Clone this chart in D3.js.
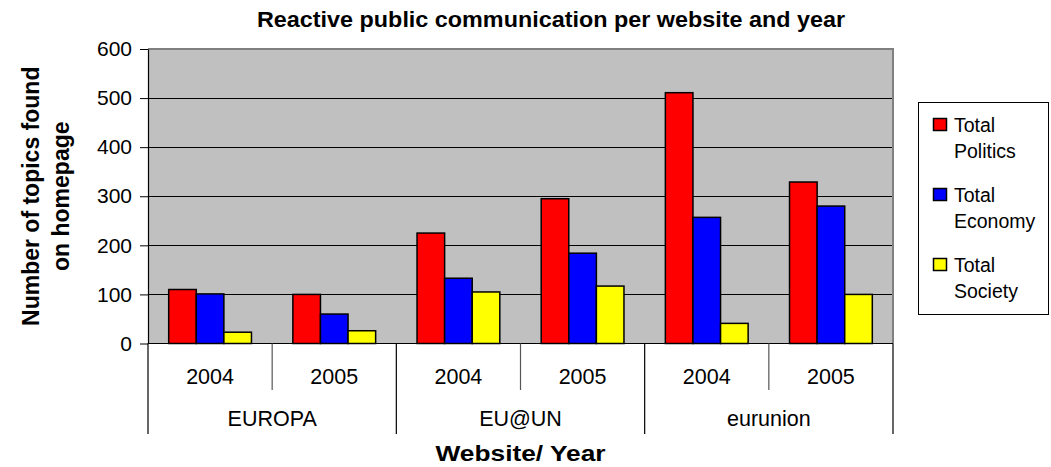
<!DOCTYPE html>
<html><head><meta charset="utf-8">
<script src="https://cdn.jsdelivr.net/npm/d3@7"></script>
<style>body{margin:0;background:#fff} text{font-family:Arial,"Liberation Sans",sans-serif;fill:#000}</style>
</head><body>
<svg id="c" width="1051" height="467"></svg>
<script>
const websites = ["EUROPA", "EU@UN", "eurunion"];
const years = ["2004", "2005"];
const seriesNames = ["Total Politics", "Total Economy", "Total Society"];
const politics = [110, 100, 225, 295, 511, 329];
const economy  = [101, 60, 133, 184, 257, 280];
const society  = [23, 26, 105, 117, 41, 100];
const yTicks = [0, 100, 200, 300, 400, 500, 600];
const colors = ["#FF0000", "#0000FF", "#FFFF00"];

const cats = websites.flatMap(w => years.map(y => ({site: w, year: y, key: w + "|" + y})));
const seriesVals = [politics, economy, society];
const data = cats.map((c, i) => ({...c, vals: seriesNames.map((s, j) => ({name: s, v: seriesVals[j][i], color: colors[j]}))}));

const svg = d3.select("#c");
const L = 148, R = 893, T = 49, B = 343.5;
const x0 = d3.scaleBand().domain(cats.map(c => c.key)).range([L, R]).padding(0);
const x1 = d3.scaleBand().domain(seriesNames).range([0, x0.bandwidth()]).paddingInner(0).paddingOuter(0.75);
const y = d3.scaleLinear().domain([0, 600]).range([B, T]);

// plot background
svg.append("rect").attr("x", L).attr("y", T).attr("width", R - L).attr("height", B - T).attr("fill", "#C0C0C0");
// gridlines
svg.append("g").selectAll("line").data(yTicks.filter(t => t > 0 && t < 600)).join("line")
  .attr("x1", L).attr("x2", R).attr("y1", d => Math.round(y(d)) + 0.5).attr("y2", d => Math.round(y(d)) + 0.5)
  .attr("stroke", "#000").attr("stroke-width", 1);
// top/right border
svg.append("path").attr("d", `M${L},${T}H${R}V${B}`).attr("fill", "none").attr("stroke", "#808080").attr("stroke-width", 2);

// bars
const g = svg.append("g").selectAll("g").data(data).join("g").attr("transform", d => `translate(${x0(d.key)},0)`);
g.selectAll("rect").data(d => d.vals).join("rect")
  .attr("x", d => x1(d.name)).attr("width", x1.bandwidth())
  .attr("y", d => y(d.v)).attr("height", d => B - y(d.v))
  .attr("fill", d => d.color).attr("stroke", "#000").attr("stroke-width", 1.5);

// y axis
const ya = svg.append("g").attr("transform", `translate(${L},0)`)
  .call(d3.axisLeft(y).tickValues(yTicks).tickSize(8).tickPadding(8).tickSizeOuter(0));
ya.select(".domain").attr("stroke", "#000").attr("stroke-width", 1.2);
ya.selectAll(".tick line").attr("stroke", "#000");
ya.selectAll("text").attr("font-size", 21).attr("font-family", "Arial, 'Liberation Sans', sans-serif").attr("fill", "#000");

// category axis lines
svg.append("line").attr("x1", L).attr("x2", R).attr("y1", B).attr("y2", B).attr("stroke", "#000").attr("stroke-width", 1.2);
const catAxis = svg.append("g");
cats.forEach((c, i) => {
  const xs = x0(c.key);
  const isGroupStart = years.indexOf(c.year) === 0;
  catAxis.append("line").attr("x1", xs).attr("x2", xs).attr("y1", B).attr("y2", isGroupStart ? 434 : 390)
    .attr("stroke", isGroupStart ? "#000" : "#555").attr("stroke-width", 1.2);
});
catAxis.append("line").attr("x1", R).attr("x2", R).attr("y1", B).attr("y2", 434).attr("stroke", "#000").attr("stroke-width", 1.2);
// year labels
svg.append("g").selectAll("text").data(cats).join("text")
  .attr("x", d => x0(d.key) + x0.bandwidth() / 2).attr("y", 384)
  .attr("text-anchor", "middle").attr("font-size", 21.5).text(d => d.year);
// website labels
svg.append("g").selectAll("text").data(websites).join("text")
  .attr("x", w => x0(w + "|" + years[0]) + x0.bandwidth())
  .attr("y", 426).attr("text-anchor", "middle").attr("font-size", 21.5).text(w => w);

// titles
svg.append("text").attr("x", 551).attr("y", 27).attr("text-anchor", "middle")
  .attr("font-size", 21.5).attr("font-weight", "bold")
  .attr("textLength", 588).attr("lengthAdjust", "spacingAndGlyphs")
  .text("Reactive public communication per website and year");
svg.append("text").attr("x", (L + R) / 2).attr("y", 461).attr("text-anchor", "middle")
  .attr("font-size", 22.5).attr("font-weight", "bold")
  .attr("textLength", 170).attr("lengthAdjust", "spacingAndGlyphs")
  .text("Website/ Year");
const yt = svg.append("text").attr("transform", `translate(0,${(T + B) / 2}) rotate(-90)`)
  .attr("text-anchor", "middle").attr("font-size", 23).attr("font-weight", "bold");
yt.append("tspan").attr("x", 0).attr("y", 39).text("Number of topics found");
yt.append("tspan").attr("x", 0).attr("y", 69).text("on homepage");

// legend
const lg = svg.append("g");
lg.append("rect").attr("x", 918.5).attr("y", 102.5).attr("width", 130).attr("height", 212)
  .attr("fill", "#fff").attr("stroke", "#000").attr("stroke-width", 1);
const items = lg.selectAll("g").data(seriesNames).join("g")
  .attr("transform", (d, i) => `translate(0,${i * 70})`);
items.append("rect").attr("x", 933.5).attr("y", 118.5).attr("width", 13).attr("height", 12)
  .attr("fill", (d, i) => colors[i]).attr("stroke", "#000").attr("stroke-width", 1.5);
items.each(function(d) {
  const words = d.split(" ");
  const t = d3.select(this).append("text").attr("font-size", 19.5);
  t.append("tspan").attr("x", 954).attr("y", 132).text(words[0]);
  t.append("tspan").attr("x", 954).attr("y", 158).text(words.slice(1).join(" "));
});
</script>
</body></html>
